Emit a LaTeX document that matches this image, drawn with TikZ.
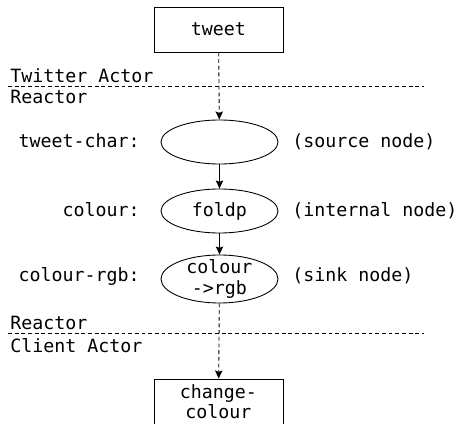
\documentclass[tikz,border=0pt]{standalone}
\usepackage{fontspec}
\setmonofont{DejaVu Sans Mono}
\usetikzlibrary{shapes.geometric, arrows.meta}
\begin{document}
\begin{tikzpicture}[font=\ttfamily\fontsize{10.4}{11.7}\selectfont, line width=0.5pt,
    actor/.style={rectangle, draw, minimum width=2.58cm, minimum height=0.9cm, align=center, inner sep=1pt},
    signal/.style={ellipse, draw, minimum width=2.34cm, minimum height=0.88cm, align=center, inner sep=0pt},
    boundary/.style={dash pattern=on 2.2pt off 1.6pt},
    flow/.style={-{Stealth[length=4.6pt, width=4.2pt, inset=0.8pt]}}]
    \useasboundingbox (0,0) rectangle (9.14,8.48);

    \node[actor] at (4.37,7.89) (TW) {tweet};
    \node[signal] at (4.39,5.64) (TC) {};
    \node[signal] at (4.39,4.26) (CO) {foldp};
    \node[signal, minimum height=0.96cm, inner ysep=-1.5pt] at (4.39,2.90) (RGB) {colour\\->rgb};
    \node[actor] at (4.37,0.45) (CC) {change-\\colour};

    % actor boundaries
    \draw[boundary] (0.16,6.76) -- (8.48,6.76);
    \draw[boundary] (0.16,1.82) -- (8.48,1.82);
    \node[anchor=base west, inner sep=0pt] at (0.2,6.82) (TA) {Twitter Actor};
    \node[anchor=base west, inner sep=0pt] at (0.2,6.40) (R1) {Reactor};
    \node[anchor=base west, inner sep=0pt] at (0.2,1.88) (R2) {Reactor};
    \node[anchor=base west, inner sep=0pt] at (0.2,1.42) (CA) {Client Actor};

    % signal names and kinds
    \node[anchor=base east, inner sep=0pt] at (2.8,5.52) (TCname) {tweet-char:};
    \node[anchor=base east, inner sep=0pt] at (2.8,4.14) (COname) {colour:};
    \node[anchor=base east, inner sep=0pt] at (2.8,2.84) (RGBname) {colour-rgb:};
    \node[anchor=base west, inner sep=0pt] at (5.84,5.52) (TCkind) {(source node)};
    \node[anchor=base west, inner sep=0pt] at (5.84,4.14) (COkind) {(internal node)};
    \node[anchor=base west, inner sep=0pt] at (5.84,2.84) (RGBkind) {(sink node)};

    \draw [flow, boundary] (TW) -- (TC);
    \draw [flow] (TC) -- (CO);
    \draw [flow] (CO) -- (RGB);
    \draw [flow, boundary] (RGB) -- (CC);
\end{tikzpicture}
\end{document}
